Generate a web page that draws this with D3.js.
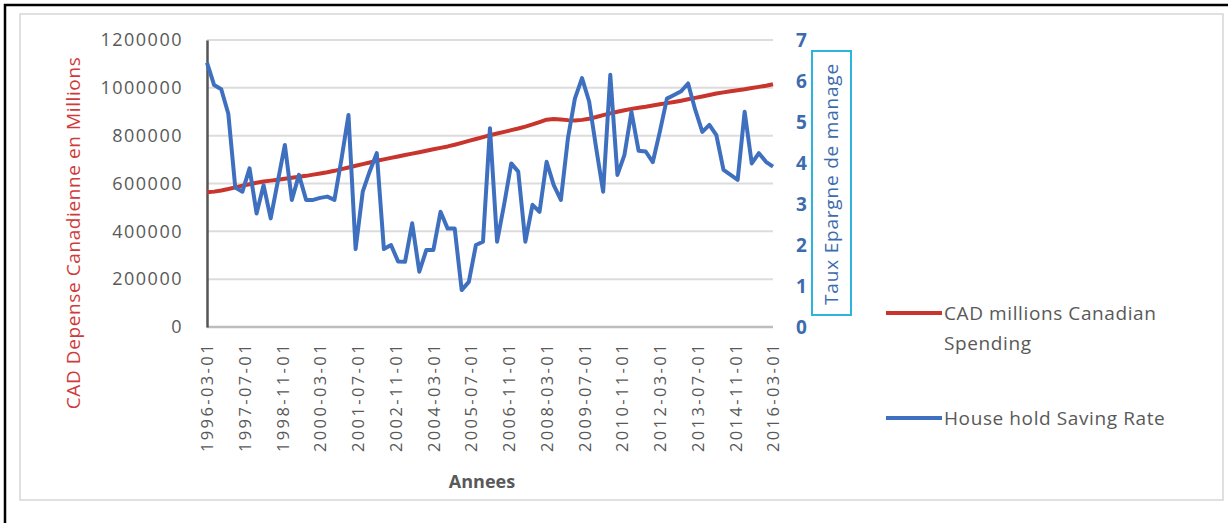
<!DOCTYPE html>
<html>
<head>
<meta charset="utf-8">
<script src="https://cdn.jsdelivr.net/npm/d3@7"></script>
<style>
  html, body { margin: 0; padding: 0; background: #fff; }
  svg { display: block; }
</style>
</head>
<body>
<svg id="chart" width="1228" height="523"></svg>
<script>
// ---------- DATA ----------
const startDate = "1996-03-01";
const endDate = "2016-03-01";
const tickLabels = ["1996-03-01","1997-07-01","1998-11-01","2000-03-01","2001-07-01","2002-11-01",
  "2004-03-01","2005-07-01","2006-11-01","2008-03-01","2009-07-01","2010-11-01","2012-03-01",
  "2013-07-01","2014-11-01","2016-03-01"];
const spendingTicks = [0, 200000, 400000, 600000, 800000, 1000000, 1200000];
const savingTicks = [0, 1, 2, 3, 4, 5, 6, 7];

// CAD millions Canadian Spending (quarterly)
const spending = [
  563000, 566000, 571000, 577000, 584000, 591000, 597000, 603000, 608000, 612000,
  616000, 620000, 624000, 628000, 632000, 637000, 642000, 647000, 653000, 660000,
  667000, 674000, 681000, 688000, 695000, 701000, 707000, 713000, 719000, 725000,
  731000, 737000, 743000, 749000, 755000, 762000, 770000, 778000, 786000, 794000,
  802000, 809000, 816000, 823000, 830000, 838000, 847000, 857000, 867000, 870000,
  868000, 865000, 863000, 866000, 871000, 878000, 886000, 893000, 900000, 906000,
  912000, 917000, 921000, 926000, 931000, 936000, 941000, 946000, 952000, 958000,
  964000, 970000, 976000, 981000, 986000, 990000, 994000, 999000, 1004000, 1009000,
  1015000
];
// House hold Saving Rate (quarterly)
const savingRate = [
  6.45, 5.9, 5.8, 5.2, 3.4, 3.3, 3.87, 2.77, 3.46, 2.65,
  3.55, 4.44, 3.1, 3.71, 3.1, 3.1, 3.15, 3.18, 3.1, 4.1,
  5.17, 1.9, 3.3, 3.8, 4.24, 1.9, 2.0, 1.6, 1.59, 2.53,
  1.35, 1.88, 1.88, 2.81, 2.4, 2.4, 0.9, 1.1, 2.0, 2.08,
  4.85, 2.08, 3.0, 3.99, 3.79, 2.08, 2.98, 2.81, 4.03, 3.46,
  3.1, 4.6, 5.57, 6.07, 5.5, 4.36, 3.3, 6.15, 3.71, 4.2,
  5.25, 4.3, 4.28, 4.02, 4.76, 5.57, 5.66, 5.75, 5.94, 5.3,
  4.76, 4.93, 4.68, 3.83, 3.71, 3.59, 5.25, 3.99, 4.24, 4.03,
  3.91
];
const seriesNames = ["CAD millions Canadian Spending", "House hold Saving Rate"];

// ---------- LAYOUT ----------
const parse = d3.utcParse("%Y-%m-%d");
const dates = d3.utcMonth.range(parse(startDate), d3.utcDay.offset(parse(endDate), 1), 3);

const plot = { left: 207, right: 773, top: 40, bottom: 327 };
const x = d3.scaleUtc().domain([parse(startDate), parse(endDate)]).range([plot.left, plot.right]);
const yL = d3.scaleLinear().domain([0, 1200000]).range([plot.bottom, plot.top]);
const yR = d3.scaleLinear().domain([0, 7]).range([plot.bottom, plot.top]);

const RED = "#c8352d";
const BLUE = "#3f70c0";
const GRAY_TXT = "#595959";
const FONT = "'Open Sans', 'DejaVu Sans', sans-serif";

const svg = d3.select("#chart");

// outer frame
svg.append("rect").attr("x", 5).attr("y", 5).attr("width", 1240).attr("height", 540)
  .attr("fill", "none").attr("stroke", "#000").attr("stroke-width", 2.5);
// chart area
svg.append("rect").attr("x", 20).attr("y", 14).attr("width", 1203).attr("height", 486)
  .attr("fill", "#fff").attr("stroke", "#d6d6d6").attr("stroke-width", 1.5);

// gridlines
svg.append("g").selectAll("line").data(spendingTicks.slice(1)).join("line")
  .attr("x1", plot.left).attr("x2", plot.right)
  .attr("y1", d => yL(d)).attr("y2", d => yL(d))
  .attr("stroke", "#dcdcdc").attr("stroke-width", 2);

// bottom axis line
svg.append("line").attr("x1", plot.left).attr("x2", plot.right)
  .attr("y1", plot.bottom).attr("y2", plot.bottom)
  .attr("stroke", "#bdbdbd").attr("stroke-width", 2.5);

// left axis
const gL = svg.append("g").attr("transform", `translate(${plot.left},0)`)
  .call(d3.axisLeft(yL).tickValues(spendingTicks).tickSize(0).tickPadding(24).tickFormat(d3.format("d")));
gL.select(".domain").attr("stroke", "#555").attr("stroke-width", 2.5);
gL.selectAll("text").attr("font-family", FONT).attr("font-size", 18)
  .attr("letter-spacing", 1.5).attr("fill", GRAY_TXT);

// right axis
const gR = svg.append("g").attr("transform", `translate(${plot.right},0)`)
  .call(d3.axisRight(yR).tickValues(savingTicks).tickSize(0).tickPadding(23).tickFormat(d3.format("d")));
gR.select(".domain").remove();
gR.selectAll("text").attr("font-family", FONT).attr("font-size", 19).attr("font-weight", "bold")
  .attr("fill", "#3d6cae");

// bottom axis
const gB = svg.append("g").attr("transform", `translate(0,${plot.bottom})`)
  .call(d3.axisBottom(x).tickValues(tickLabels.map(parse)).tickSize(0).tickFormat(d3.utcFormat("%Y-%m-%d")));
gB.select(".domain").remove();
gB.selectAll("text")
  .attr("font-family", FONT).attr("font-size", 16.5).attr("letter-spacing", 2.4).attr("fill", GRAY_TXT)
  .attr("transform", "rotate(-90)")
  .attr("text-anchor", "end").attr("x", -15).attr("y", 0).attr("dy", "0.35em");

// lines
const lineL = d3.line().x((d, i) => x(dates[i])).y(d => yL(d));
const lineR = d3.line().x((d, i) => x(dates[i])).y(d => yR(d));
svg.append("path").datum(spending).attr("d", lineL)
  .attr("fill", "none").attr("stroke", RED).attr("stroke-width", 4).attr("stroke-linejoin", "round");
svg.append("path").datum(savingRate).attr("d", lineR)
  .attr("fill", "none").attr("stroke", BLUE).attr("stroke-width", 4).attr("stroke-linejoin", "round");

// axis titles
svg.append("text").attr("transform", "translate(80,233) rotate(-90)")
  .attr("text-anchor", "middle").attr("font-family", FONT).attr("font-size", 19)
  .attr("letter-spacing", 0.6).attr("fill", "#cf3b3b").text("CAD Depense Canadienne en Millions");

svg.append("rect").attr("x", 812).attr("y", 51).attr("width", 39).attr("height", 264)
  .attr("fill", "none").attr("stroke", "#2bb5dc").attr("stroke-width", 2);
svg.append("text").attr("transform", "translate(838,184) rotate(-90)")
  .attr("text-anchor", "middle").attr("font-family", FONT).attr("font-size", 19)
  .attr("letter-spacing", 0.8).attr("fill", "#3d6cae").text("Taux Epargne de manage");

svg.append("text").attr("x", 482).attr("y", 488).attr("text-anchor", "middle")
  .attr("font-family", FONT).attr("font-size", 18).attr("font-weight", "bold")
  .attr("fill", GRAY_TXT).text("Annees");

// legend
const legend = svg.append("g").attr("font-family", FONT).attr("font-size", 19)
  .attr("letter-spacing", 0.6).attr("fill", GRAY_TXT);
legend.append("line").attr("x1", 886).attr("x2", 942).attr("y1", 313).attr("y2", 313)
  .attr("stroke", RED).attr("stroke-width", 4);
const t1 = legend.append("text").attr("x", 944).attr("y", 320);
t1.append("tspan").attr("x", 944).text("CAD millions Canadian");
t1.append("tspan").attr("x", 944).attr("dy", 30).text("Spending");
legend.append("line").attr("x1", 886).attr("x2", 942).attr("y1", 418).attr("y2", 418)
  .attr("stroke", BLUE).attr("stroke-width", 4);
legend.append("text").attr("x", 944).attr("y", 425).text(seriesNames[1]);
</script>
</body>
</html>
